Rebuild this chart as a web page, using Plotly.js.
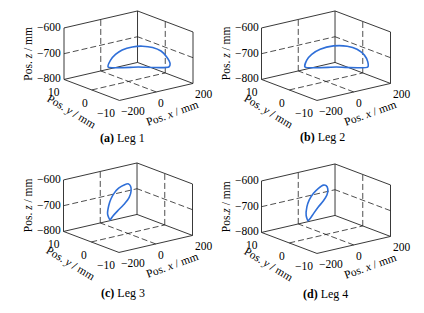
<!DOCTYPE html>
<html><head><meta charset="utf-8">
<script src="https://cdn.plot.ly/plotly-3.0.1.min.js"></script>
<style>html,body{margin:0;padding:0;background:#fff}#c{width:424px;height:313px}</style>
</head><body><div id="c"></div>
<script>
// Leg trajectories (mm)
const leg1X = [-55, -47, -30, -7, 27, 61, 95, 124, 143, 154, 150, 47, -55];
const leg1Y = [3.7, 3.4, 2.7, 1.8, 0.4, -1.0, -2.4, -3.5, -4.3, -4.8, -4.6, -0.45, 3.7];
const leg1Z = [-750, -724, -701, -684, -672, -669, -674, -688, -711, -737, -750, -750, -750];

const leg2X = [-57, -51, -34, -6, 39, 85, 119, 144, 155, 155, 49, -57];
const leg2Y = [3.8, 3.6, 2.9, 1.7, -0.1, -2.0, -3.3, -4.3, -4.8, -4.8, -0.5, 3.8];
const leg2Z = [-750, -724, -701, -681, -668, -669, -681, -704, -730, -750, -750, -750];

const leg3X = [-98, -111, -105, -93, -75, -51, -21, 3, 14, 17, 6.5, -21, -56.5, -84, -98];
const leg3Y = [0, 0, 0, 0, 0, 0, 0, 0, 0, 0, 0, 0, 0, 0, 0];
const leg3Z = [-731, -707, -675, -651, -631, -616, -608, -608, -619, -637, -661, -683, -703, -720, -731];

const leg4X = [-98, -108, -104, -91, -68, -41, -14, 1, 10, 5, -14, -41, -68, -86, -98];
const leg4Y = [0, 0, 0, 0, 0, 0, 0, 0, 0, 0, 0, 0, 0, 0, 0];
const leg4Z = [-731, -708, -676, -651, -629, -614, -606, -611, -626, -648, -667, -686, -708, -724, -731];

const xTicks = [-200, 0, 200];
const yTicks = [-10, 0, 10];
const zTicks = [-800, -700, -600];
const captions = ['(a)', '(b)', '(c)', '(d)'];
const legNames = ['Leg 1', 'Leg 2', 'Leg 3', 'Leg 4'];
const zTitles = ['Pos. <i>z</i> / mm', 'Pos. <i>z</i> / mm', 'Pos. <i>z</i> / mm', 'Pos.<i>z</i> / mm'];
const yTitle = 'Pos. <i>y</i> / mm';
const xTitle = 'Pos. <i>x</i> / mm';

const legs = [[leg1X, leg1Y, leg1Z], [leg2X, leg2Y, leg2Z], [leg3X, leg3Y, leg3Z], [leg4X, leg4Y, leg4Z]];

// 3D view (orthographic, like MATLAB view(az, el)) mapped onto 2D axes in pixel units
const AZ = 38 * Math.PI / 180, EL = 17.2 * Math.PI / 180;
const BOX = {x: 93.3, y: 90.1, z: 53.9};
const x0 = xTicks[0], x1 = xTicks[2], y0 = yTicks[0], y1 = yTicks[2], z0 = zTicks[0], z1 = zTicks[2];
const xm = xTicks[1], ym = yTicks[1], zm = zTicks[1];
function proj(x, y, z) {
  if (x === null) return [null, null];
  const nx = ((x - x0) / (x1 - x0) - 0.5) * BOX.x;
  const ny = ((y - y0) / (y1 - y0) - 0.5) * BOX.y;
  const nz = ((z - z0) / (z1 - z0) - 0.5) * BOX.z;
  const u = nx * Math.cos(AZ) - ny * Math.sin(AZ);
  const v = nz * Math.cos(EL) + (nx * Math.sin(AZ) + ny * Math.cos(AZ)) * Math.sin(EL);
  return [u, v];
}
function projLine(X, Y, Z) {
  const U = [], V = [];
  for (let k = 0; k < X.length; k++) { const p = proj(X[k], Y[k], Z[k]); U.push(p[0]); V.push(p[1]); }
  return {U, V};
}
function seg(list) {
  const X = [], Y = [], Z = [];
  list.forEach(([a, b]) => { X.push(a[0], b[0], null); Y.push(a[1], b[1], null); Z.push(a[2], b[2], null); });
  return projLine(X, Y, Z);
}
const edges = seg([
  [[x0,y0,z0],[x1,y0,z0]], [[x1,y0,z0],[x1,y1,z0]], [[x1,y1,z0],[x0,y1,z0]], [[x0,y1,z0],[x0,y0,z0]],
  [[x0,y1,z0],[x0,y1,z1]], [[x1,y1,z0],[x1,y1,z1]], [[x1,y0,z0],[x1,y0,z1]],
  [[x0,y1,z1],[x1,y1,z1]], [[x1,y1,z1],[x1,y0,z1]]
]);
const grids = seg([
  [[xm,y1,z0],[xm,y1,z1]], [[x0,y1,zm],[x1,y1,zm]],
  [[x1,ym,z0],[x1,ym,z1]], [[x1,y0,zm],[x1,y1,zm]],
  [[xm,y0,z0],[xm,y1,z0]], [[x0,ym,z0],[x1,ym,z0]]
]);

const FONT = 'Liberation Serif, Times New Roman, serif';
const W = 424, H = 313;
// pixel position of each box centre, and panel cells
const centers = [[128.5, 55.7], [326, 55.7], [128, 207.7], [326, 208.7]];
const cells = [[0, 212, 0, 156.5], [212, 424, 0, 156.5], [0, 212, 156.5, 313], [212, 424, 156.5, 313]];
const capPos = [[122.5, 138], [322, 137], [122.5, 293], [325, 294]];
const fmt = t => String(t).replace('-', '\u2212');

const data = [];
const layout = {width: W, height: H, margin: {l:0,r:0,t:0,b:0}, paper_bgcolor: '#fff', plot_bgcolor: 'rgba(0,0,0,0)', showlegend: false, annotations: []};

legs.forEach((L, i) => {
  const s = i === 0 ? '' : String(i + 1);
  const xa = 'x' + s, ya = 'y' + s;
  const [cx, cy] = centers[i];
  const [l, r, t, b] = cells[i];
  layout['xaxis' + s] = {domain: [l / W, r / W], range: [l - cx, r - cx], visible: false, fixedrange: true};
  layout['yaxis' + s] = {domain: [1 - b / H, 1 - t / H], range: [cy - b, cy - t], visible: false, fixedrange: true};
  const common = {type: 'scatter', mode: 'lines', xaxis: xa, yaxis: ya, hoverinfo: 'skip', connectgaps: false, cliponaxis: false};
  data.push(Object.assign({}, common, {x: grids.U, y: grids.V, line: {color: '#222', width: 0.8, dash: '6px,3px'}}));
  data.push(Object.assign({}, common, {x: edges.U, y: edges.V, line: {color: '#222', width: 0.9}}));
  const P = projLine(L[0], L[1], L[2]);
  data.push(Object.assign({}, common, {x: P.U, y: P.V, line: {color: '#2f6fd8', width: 1.6, shape: 'spline', smoothing: 0.6}}));

  const tf = {family: FONT, size: 11.5, color: '#000'};
  const A = (x, y, text, o) => layout.annotations.push(Object.assign({xref: xa, yref: ya, x, y, text, showarrow: false, font: tf, borderpad: 0}, o));
  zTicks.forEach(z => { const p = proj(x0, y1, z); A(p[0], p[1], fmt(z), {xanchor: 'right', yanchor: 'middle', xshift: -2, yshift: 1}); });
  yTicks.forEach(y => { const p = proj(x0, y, z0); A(p[0], p[1], fmt(y), {xanchor: 'right', yanchor: 'top', xshift: -3, yshift: -6}); });
  xTicks.forEach(x => { const p = proj(x, y0, z0); A(p[0], p[1], fmt(x), {xanchor: 'left', yanchor: 'top', xshift: 1, yshift: -4}); });
  let p = proj(x0, y1, zm);
  A(p[0], p[1], zTitles[i], {xanchor: 'center', yanchor: 'middle', textangle: -90, xshift: -36});
  p = proj(x0, ym, z0);
  A(p[0], p[1], yTitle, {xanchor: 'center', yanchor: 'middle', textangle: 31, xshift: -21, yshift: -22});
  p = proj(xm, y0, z0);
  A(p[0], p[1], xTitle, {xanchor: 'center', yanchor: 'middle', textangle: -20, xshift: 16, yshift: -21});

  layout.annotations.push({xref: 'paper', yref: 'paper', x: capPos[i][0] / W, y: 1 - capPos[i][1] / H, text: '<b>' + captions[i] + '</b> ' + legNames[i], showarrow: false, font: {family: FONT, size: 12, color: '#000'}, xanchor: 'center', yanchor: 'middle'});
});

Plotly.newPlot('c', data, layout, {staticPlot: true, displayModeBar: false});
</script></body></html>
